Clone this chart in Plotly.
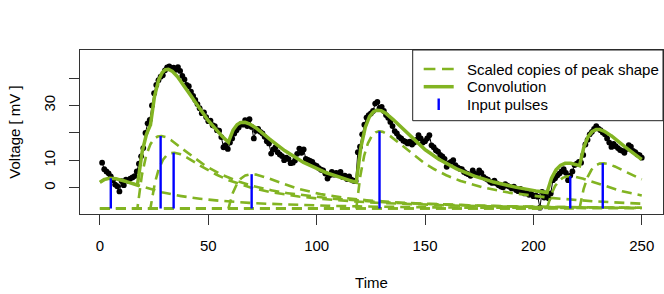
import numpy as np
import plotly.graph_objects as go

# ---------------- data ----------------
TIME = list(range(1, 251))
VOLTAGE = [
    9.2, 6.8, 6.0, 5.3, 4.2, 2.8, 1.2, 0.6, -1.3, 2.5,
    1.0, 3.0, 2.6, 3.4, 3.8, 4.3, 6.0, 8.8, 11.5, 14.5,
    20.0, 23.5, 24.8, 30.0, 34.5, 37.5, 39.2, 40.5, 41.0, 42.8,
    43.9, 44.2, 43.5, 43.8, 43.0, 44.0, 42.6, 40.8, 39.5, 37.5,
    37.0, 35.0, 33.5, 32.0, 30.5, 29.0, 27.2, 27.5, 25.8, 24.3,
    24.5, 22.8, 22.5, 21.0, 20.8, 18.5, 14.8, 15.6, 14.2, 16.5,
    18.0, 19.8, 21.0, 22.0, 23.2, 23.0, 24.7, 22.5, 25.0, 22.2,
    18.0, 20.8, 21.5, 20.4, 19.8, 18.6, 17.0, 16.2, 12.5, 14.0,
    14.8, 13.0, 12.2, 11.6, 10.1, 11.0, 10.5, 9.0, 9.2, 10.0,
    12.4, 14.3, 12.8, 14.0, 10.6, 10.2, 9.8, 9.5, 8.4, 8.0,
    7.2, 6.6, 6.4, 5.2, 3.4, 4.6, 5.8, 4.8, 5.5, 4.8,
    5.8, 4.0, 4.5, 3.2, 4.2, 3.0, 2.6, 2.5, 13.0, 15.0,
    19.5, 23.0, 25.6, 26.5, 27.1, 28.0, 30.7, 31.3, 29.0, 29.5,
    28.0, 26.5, 25.5, 24.0, 22.5, 20.7, 19.8, 18.6, 18.0, 17.2,
    16.8, 16.2, 16.8, 15.8, 16.5, 17.5, 19.2, 18.0, 16.5, 17.0,
    18.0, 19.2, 15.5, 14.8, 13.7, 13.2, 12.0, 11.5, 10.6, 7.7,
    9.0, 9.5, 10.1, 8.3, 7.5, 7.0, 6.8, 5.8, 5.3, 5.0,
    4.4, 6.4, 5.2, 4.8, 6.4, 5.5, 4.0, 3.4, 3.0, 2.2,
    1.8, 2.6, 1.6, 1.0, 0.5, 0.2, 1.4, 0.8, 0.4, -0.2,
    0.5, -0.8, -1.2, -0.4, -1.5, -2.0, -1.8, -2.5, -2.2, -3.0,
    -2.7, -3.2, -7.2, -1.5, -3.5, -2.0, -3.8, -2.0, 2.8, 3.5,
    4.5, 5.2, 6.0, 6.8, 5.5, 2.8, 4.5, 6.0, 8.3, 8.8,
    9.5, 9.2, 12.0, 15.8, 17.5, 19.5, 20.4, 21.5, 22.5, 21.6,
    21.0, 20.2, 19.5, 18.0, 16.5, 14.9, 16.0, 15.2, 14.5, 13.8,
    13.5, 12.8, 14.2, 15.6, 15.0, 13.5, 13.0, 12.2, 11.9, 11.0,
]

PULSE_TIME = [5, 28, 34, 70, 129, 217, 232]
PULSE_HEIGHT = [3.5, 18.9, 12.8, 5.0, 20.6, 4.3, 9.0]
BASELINE = -7.5

X_TICKS = [0, 50, 100, 150, 200, 250]
Y_TICKS = [0, 10, 20, 30, 40]
Y_TICK_TEXT = ["0", "10", "", "30", ""]

LEGEND_LABELS = ["Scaled copies of peak shape", "Convolution", "Input pulses"]

GREEN = "#82B422"
FONT = "Liberation Sans, Arial, Helvetica, sans-serif"

# ---------------- peak shape: fitted (least squares grid search) ----------------
t_obs = np.array(TIME, dtype=float)
v_obs = np.array(VOLTAGE, dtype=float)
s_fine = np.arange(0, 80, 0.05)


def raw_shape(s, tr, a, t1, t2):
    s = np.clip(s, 0, None)
    return np.where(s > 0, (1 - np.exp(-s / tr)) *
                    (a * np.exp(-s / t1) + (1 - a) * np.exp(-s / t2)), 0.0)


def model(t, prm):
    tr, a, t1, t2 = prm
    f = raw_shape(s_fine, tr, a, t1, t2)
    k = np.argmax(f)
    sp, pm = s_fine[k], f[k]
    total = np.full_like(t, BASELINE, dtype=float)
    parts = []
    for t0, h in zip(PULSE_TIME, PULSE_HEIGHT):
        c = (h - BASELINE) * raw_shape(t - (t0 - sp), tr, a, t1, t2) / pm
        parts.append(c)
        total = total + c
    return total, parts


mask = np.abs(v_obs - (-7.2)) > 0.01  # leave the single outlier out of the fit
best, best_err = None, np.inf
for tr in [1.5, 2.5, 3.5, 4.5, 5.5, 6.5, 8.0]:
    for a in [0.0, 0.2, 0.35, 0.5, 0.6, 0.7, 0.8, 0.9, 1.0]:
        for t1 in [8.0, 12.0, 16.0, 20.0, 24.0, 28.0, 32.0, 36.0]:
            for t2 in [35.0, 45.0, 55.0, 70.0, 90.0, 120.0, 160.0]:
                m, _ = model(t_obs, (tr, a, t1, t2))
                err = np.sum(((m - v_obs)[mask]) ** 2)
                if err < best_err:
                    best, best_err = (tr, a, t1, t2), err

grid = np.arange(0, 250.001, 0.1)
conv, copies = model(grid, best)

fig = go.Figure()

# observed data
fig.add_trace(go.Scatter(
    x=TIME, y=VOLTAGE, mode="lines+markers",
    line=dict(color="black", width=1),
    marker=dict(color="black", size=5.8),
    showlegend=False, hoverinfo="skip"))

# scaled copies
for i, c in enumerate(copies):
    fig.add_trace(go.Scatter(
        x=grid, y=BASELINE + c, mode="lines",
        line=dict(color=GREEN, width=2.6, dash="10px,6px"),
        name=LEGEND_LABELS[0], showlegend=False, hoverinfo="skip"))

# convolution
fig.add_trace(go.Scatter(
    x=grid, y=conv, mode="lines",
    line=dict(color=GREEN, width=3.5),
    name=LEGEND_LABELS[1], showlegend=False, hoverinfo="skip"))

# input pulses
px, py = [], []
for t0, h in zip(PULSE_TIME, PULSE_HEIGHT):
    px += [t0, t0, None]
    py += [BASELINE, h, None]
fig.add_trace(go.Scatter(
    x=px, y=py, mode="lines",
    line=dict(color="blue", width=2.4),
    name=LEGEND_LABELS[2], showlegend=False, hoverinfo="skip"))

# ---------------- legend box (drawn like R's legend) ----------------
L, R, T, B = 80.0, 663.0, 50.0, 214.0  # plot area in pixels


def px2x(p):
    return (p - L) / (R - L)


def px2y(p):
    return (B - p) / (B - T)


shapes = [
    dict(type="rect", xref="paper", yref="paper", layer="above",
         x0=px2x(412.7), x1=1.0, y0=px2y(120.7), y1=1.0,
         fillcolor="white", line=dict(color="#222", width=1)),
    dict(type="line", xref="paper", yref="paper", layer="above",
         x0=px2x(423.7), x1=px2x(453.7), y0=px2y(69), y1=px2y(69),
         line=dict(color=GREEN, width=2.6, dash="11.7px,6.6px")),
    dict(type="line", xref="paper", yref="paper", layer="above",
         x0=px2x(423.7), x1=px2x(453.7), y0=px2y(86.7), y1=px2y(86.7),
         line=dict(color=GREEN, width=3.5)),
    dict(type="line", xref="paper", yref="paper", layer="above",
         x0=px2x(438.7), x1=px2x(438.7), y0=px2y(98.5), y1=px2y(110),
         line=dict(color="blue", width=2.4)),
]
annotations = [
    dict(xref="paper", yref="paper", x=px2x(465.3), y=px2y(yy), text=txt,
         showarrow=False, xanchor="left", yanchor="middle",
         font=dict(family=FONT, size=15, color="black"))
    for txt, yy in zip(LEGEND_LABELS, [69, 86.7, 104.3])
]

axis_common = dict(
    showline=True, mirror=True, linecolor="#333", linewidth=1,
    ticks="outside", ticklen=10, tickcolor="#333", tickwidth=1,
    showgrid=False, zeroline=False,
    tickfont=dict(family=FONT, size=15, color="black"),
)

fig.update_layout(
    width=664, height=294,
    margin=dict(l=80, r=1, t=50, b=80),
    paper_bgcolor="white", plot_bgcolor="white",
    font=dict(family=FONT, size=15, color="black"),
    showlegend=False,
    xaxis=dict(range=[-9.2, 259.8], tickvals=X_TICKS, ticklabelstandoff=8,
               title=dict(text="Time", font=dict(family=FONT, size=15), standoff=24),
               **axis_common),
    yaxis=dict(range=[-9.5, 50.2], tickvals=Y_TICKS, ticktext=Y_TICK_TEXT,
               tickangle=-90, ticklabelstandoff=8,
               title=dict(text="Voltage [ mV ]", font=dict(family=FONT, size=15), standoff=16),
               **axis_common),
    shapes=shapes, annotations=annotations,
)

fig.write_html("out.html", config={"displayModeBar": False},
               post_script="document.body.style.margin='0px';")
